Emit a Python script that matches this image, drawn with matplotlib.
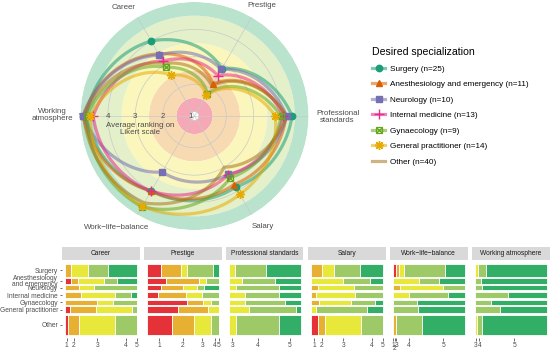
#!/usr/bin/env python3
"""
Desired specialization vs. ranking of job aspects:
radar chart of average Likert rankings plus one mosaic panel per aspect.
"""

import numpy as np
import matplotlib
matplotlib.use("Agg")
import matplotlib.pyplot as plt
from matplotlib.lines import Line2D
from matplotlib.patches import Rectangle

plt.rcParams['font.family'] = ['Liberation Sans', 'DejaVu Sans']

# ---- data -----------------------------------------------------------------
groups = ['Surgery', 'Anesthesiology and emergency', 'Neurology',
          'Internal medicine', 'Gynaecology', 'General practitioner', 'Other']
group_ticklabels = ['Surgery', 'Anesthesiology\nand emergency', 'Neurology',
                    'Internal medicine', 'Gynaecology', 'General practitioner',
                    'Other']
aspects = ['Career', 'Prestige', 'Professional standards', 'Salary',
           'Work\u2212life\u2212balance', 'Working atmosphere']
radar_labels = ['Career', 'Prestige', 'Professional\nstandards', 'Salary',
                'Work\u2212life\u2212balance', 'Working\natmosphere']
levels = ['1', '2', '3', '4', '5']

# counts per specialization (rows) for Likert levels 1..5 (columns)
career = [[0, 2, 6, 7, 10],
          [1, 1, 4, 2, 3],
          [0, 2, 2, 6, 0],
          [0, 3, 6, 3, 1],
          [0, 4, 2, 3, 0],
          [1, 5, 7, 1, 0],
          [2, 6, 20, 12, 0]]
prestige = [[5, 7, 2, 9, 2],
            [3, 5, 1, 2, 0],
            [2, 3, 2, 1, 2],
            [2, 5, 3, 3, 0],
            [5, 2, 1, 1, 0],
            [6, 6, 2, 0, 0],
            [14, 12, 10, 4, 0]]
prof_standards = [[0, 0, 2, 11, 12],
                  [0, 0, 2, 5, 4],
                  [0, 0, 1, 6, 3],
                  [0, 0, 3, 6, 4],
                  [0, 0, 2, 5, 2],
                  [0, 0, 4, 9, 1],
                  [0, 0, 4, 24, 12]]
salary = [[0, 4, 4, 9, 8],
          [0, 0, 5, 4, 2],
          [0, 1, 5, 4, 0],
          [0, 1, 7, 5, 0],
          [0, 1, 4, 3, 1],
          [0, 0, 1, 10, 3],
          [4, 4, 20, 12, 0]]
work_life = [[1, 1, 2, 14, 7],
             [0, 0, 4, 3, 4],
             [0, 1, 6, 3, 0],
             [0, 0, 3, 7, 3],
             [0, 0, 0, 3, 6],
             [0, 0, 0, 5, 9],
             [0, 2, 0, 14, 24]]
atmosphere = [[0, 0, 1, 3, 21],
              [0, 0, 0, 1, 10],
              [0, 0, 0, 1, 9],
              [0, 0, 0, 6, 7],
              [0, 0, 0, 2, 7],
              [0, 0, 0, 5, 9],
              [0, 0, 1, 3, 36]]
all_counts = [career, prestige, prof_standards, salary, work_life, atmosphere]

# ---- styles ---------------------------------------------------------------
group_colors = ['#1b9e77', '#d95f02', '#7570b3', '#e7298a', '#66a61e',
                '#e6ab02', '#a6761d']
group_markers = ['o', '^', 's', '+', 'gyn', (8, 2, 0), None]
level_colors = ['#E53238', '#E8B032', '#E8E83A', '#9DCA66', '#33AE67']
band_edges = [1.0, 1.5, 2.5, 3.5, 4.5, 5.0]
band_colors = ['#F5A8B5', '#F7D9B2', '#FBF7BC', '#E4F0C9', '#B9E3CD']
spoke_deg = [330, 390, 450, 510, 570, 630]

W, H = 550, 352


def fx(px):
    return px / W


def fy(py):
    return 1 - py / H


def draw_marker(ax, theta, r, color, marker, **kw):
    """Draw a marker; 'gyn' is a square with a cross inside (ggplot shape 7)"""
    if marker == 'gyn':
        ax.plot(theta, r, ls='none', marker='s', ms=4.6, mfc='none',
                mec=color, mew=0.9, **kw)
        ax.plot(theta, r, ls='none', marker='x', ms=4.0, mec=color,
                mew=0.9, **kw)
    elif marker in ('+', (8, 2, 0)):
        ax.plot(theta, r, ls='none', marker=marker, ms=6.5, mec=color,
                mew=1.0, **kw)
    else:
        ax.plot(theta, r, ls='none', marker=marker, ms=4.6, color=color,
                mec=color, **kw)


def legend_key(color, m):
    """Line + point key like the ggplot legend"""
    key_line = Line2D([], [], color=color, lw=2.3, alpha=0.55)
    if m is None:
        return key_line
    if m == 'gyn':
        return (key_line,
                Line2D([], [], ls='none', marker='s', ms=4.6, mfc='none',
                       mec=color, mew=0.9),
                Line2D([], [], ls='none', marker='x', ms=4.0, mec=color,
                       mew=0.9))
    if m in ('+', (8, 2, 0)):
        return (key_line, Line2D([], [], ls='none', marker=m, ms=6.5,
                                 mec=color, mew=1.0))
    return (key_line, Line2D([], [], ls='none', marker=m, ms=4.6,
                             color=color))


def radar(fig):
    """Average ranking of each aspect per specialization in polar coordinates"""
    cx, cy, rad = 194.5, 116, 114
    ax = fig.add_axes([fx(cx - rad), fy(cy + rad), fx(2 * rad), 2 * rad / H],
                      projection='polar')
    ax.set_theta_zero_location('N')
    ax.set_theta_direction(-1)
    ax.spines['polar'].set_visible(False)
    ax.set_facecolor('none')

    for lo, hi, c in zip(band_edges[:-1], band_edges[1:], band_colors):
        ax.bar(np.pi, hi - lo, width=2 * np.pi, bottom=lo, color=c, lw=0,
               zorder=0.5)

    theta = np.deg2rad(spoke_deg)
    loop = np.deg2rad(spoke_deg + [spoke_deg[0] + 360])
    handles = []
    for i, name in enumerate(groups):
        counts = np.array([c[i] for c in all_counts])
        n = counts[0].sum()
        means = (counts * np.arange(1, 6)).sum(axis=1) / counts.sum(axis=1)
        r = np.append(means, means[0])
        line, = ax.plot(loop, r, color=group_colors[i], lw=2.3, alpha=0.55,
                        solid_capstyle='round', zorder=2 + i * 0.01)
        # let the polar transform draw spirals between the points
        line.get_path()._interpolation_steps = 60
        if group_markers[i] is not None:
            draw_marker(ax, theta, means, group_colors[i], group_markers[i],
                        zorder=4, clip_on=False)
        handles.append((legend_key(group_colors[i], group_markers[i]),
                        f'{name} (n={n})'))

    ax.set_thetalim(0, 2 * np.pi)
    ax.set_ylim(0.84, 5)
    ax.set_xticks(theta % (2 * np.pi))
    ax.set_yticks([1, 2, 3, 4])
    ax.set_xticklabels([])
    ax.set_yticklabels([])
    ax.grid(True, color='#c9c9c9', lw=0.5)
    ax.tick_params(length=0)

    # aspect labels around the circle
    label_pos = [(-33.3, 5.58), (31.5, 5.55), (90.4, 6.06),
                 (148.3, 5.59), (214.9, 5.81), (270.4, 6.01)]
    for lab, (ang, rr) in zip(radar_labels, label_pos):
        ax.text(np.deg2rad(ang), rr, lab, ha='center', va='center',
                fontsize=5.7, color='#4d4d4d', linespacing=1.0,
                clip_on=False)

    # radial scale along the working atmosphere spoke
    for v in range(1, 6):
        ax.text(np.deg2rad(270), v, str(v), ha='center', va='center',
                fontsize=5.7, color='#4d4d4d', zorder=3)
    ax.text(np.deg2rad(256.6), 2.88, 'Average ranking on\nLikert scale',
            ha='center', va='center', fontsize=5.7, color='#4d4d4d',
            linespacing=0.95, zorder=3)
    return handles


def mosaic(ax, counts, title, show_y):
    """One mosaic panel: rows scaled by group size, widths by level share"""
    counts = np.array(counts, dtype=float)
    n = counts.sum(axis=1)
    gap = 0.02
    heights = n / n.sum() * (1 - gap * (len(n) - 1))
    tops = np.concatenate([[0], np.cumsum(heights[:-1] + gap)])
    centers = tops + heights / 2
    props = counts / n[:, None]
    lefts = np.cumsum(props, axis=1) - props
    for j in range(5):
        ax.barh(centers, props[:, j], left=lefts[:, j], height=heights,
                color=level_colors[j], edgecolor='white', linewidth=0.6)
    ax.set_xlim(-0.04, 1.04)
    ax.set_ylim(1.04, -0.04)
    for s in ax.spines.values():
        s.set_visible(False)

    # x labels follow the bottom row (ggmosaic habit); unused levels dropped
    used = np.where(counts.sum(axis=0) > 0)[0]
    mids = (lefts[-1] + props[-1] / 2)[used]
    labs = [levels[k] for k in used]
    ax.set_xticks(mids)
    shown = list(labs)
    for k in range(1, len(mids) - 1):
        if mids[k] - mids[k - 1] < 0.035 and mids[k + 1] - mids[k] < 0.035:
            # crowded label goes on a second line
            shown[k] = ''
            ax.text(mids[k], -0.135, labs[k], transform=ax.get_xaxis_transform(),
                    ha='center', va='center', fontsize=4.8, color='#4d4d4d')
    ax.set_xticklabels(shown, fontsize=4.8, color='#4d4d4d')
    ax.tick_params(axis='x', length=1.8, width=0.5, color='#333333', pad=1)

    if show_y:
        ax.set_yticks(centers)
        ax.set_yticklabels(group_ticklabels, fontsize=4.8, color='#4d4d4d',
                           linespacing=0.75)
        ax.tick_params(axis='y', length=1.8, width=0.5, color='#333333',
                       pad=1)
    else:
        ax.set_yticks([])

    ax.add_patch(Rectangle((0, 1.013), 1, 0.165, transform=ax.transAxes,
                           facecolor='#d9d9d9', edgecolor='none',
                           clip_on=False))
    ax.text(0.5, 1.095, title, transform=ax.transAxes, ha='center',
            va='center', fontsize=4.8, color='#1a1a1a')


def main():
    fig = plt.figure(figsize=(W / 100, H / 100), dpi=100)

    handles = radar(fig)
    fig.legend([h for h, _ in handles], [l for _, l in handles],
               title='Desired specialization', loc='upper left',
               bbox_to_anchor=(fx(372), fy(47)), frameon=False,
               fontsize=5.9, title_fontsize=7.6, borderpad=0,
               borderaxespad=0, handlelength=1.6, handletextpad=0.6,
               labelspacing=0.95, alignment='left')

    for k, (counts, title) in enumerate(zip(all_counts, aspects)):
        ax = fig.add_axes([fx(62 + 82 * k), fy(338), fx(77.5), 77 / H])
        mosaic(ax, counts, title, show_y=(k == 0))

    fig.savefig('out.png', dpi=100)


if __name__ == "__main__":
    main()
